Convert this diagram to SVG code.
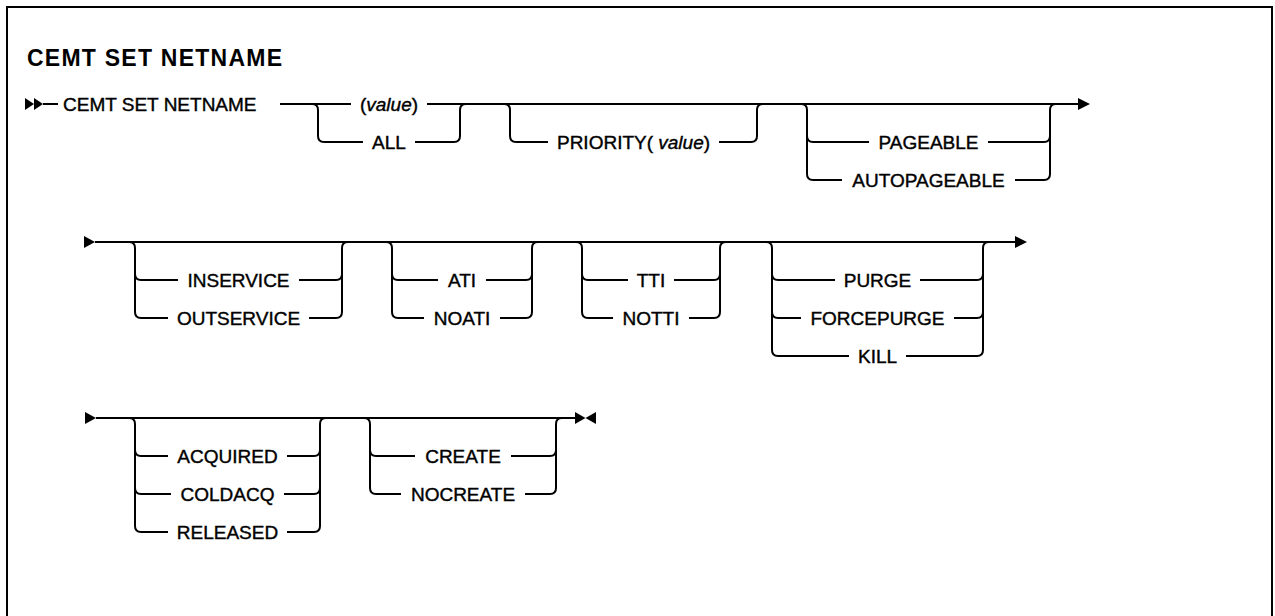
<svg xmlns="http://www.w3.org/2000/svg" width="1275" height="616" viewBox="0 0 1275 616">
<style>
.frame{fill:none;stroke:#000;stroke-width:2}
.ln{fill:none;stroke:#000;stroke-width:2}
.ar{fill:#000}
.t{font-family:"Liberation Sans",Arial,sans-serif;font-size:19px;fill:#000;stroke:#000;stroke-width:0.4;text-anchor:middle}
.ts{text-anchor:start}
.title{font-family:"Liberation Sans",Arial,sans-serif;font-size:23px;font-weight:bold;fill:#000}
.i{font-style:italic}
</style>
<rect class="frame" x="7" y="7" width="1265" height="630"/>
<g id="title"><text class="title" x="27" y="66" textLength="255" lengthAdjust="spacing">CEMT SET NETNAME</text></g>

<g id="connectors">
<!-- row 1 -->
<polygon class="ar" points="25,98 34,104 25,110"/>
<polygon class="ar" points="34,98 43,104 34,110"/>
<path class="ln" d="M43,104 H58"/>
<path class="ln" d="M280,104 H351 M427,104 H1078"/>
<polygon class="ar" points="1078,98 1090,104 1078,110"/>
<path class="ln" d="M312,104 Q318,104 318,110 V136 M460,136 V110 Q460,104 466,104 M318,136 Q318,142 324,142 H363 M415,142 H454 Q460,142 460,136"/>
<path class="ln" d="M504,104 Q510,104 510,110 V136 M757,136 V110 Q757,104 763,104 M510,136 Q510,142 516,142 H548 M719,142 H751 Q757,142 757,136"/>
<path class="ln" d="M801,104 Q807,104 807,110 V174 M1050,174 V110 Q1050,104 1056,104 M807,136 Q807,142 813,142 H869 M988,142 H1044 Q1050,142 1050,136 M807,174 Q807,180 813,180 H842 M1015,180 H1044 Q1050,180 1050,174"/>
<!-- row 2 -->
<polygon class="ar" points="84,236 95,242 84,248"/>
<path class="ln" d="M95,242 H1015"/>
<polygon class="ar" points="1015,236 1027,242 1015,248"/>
<path class="ln" d="M129,242 Q135,242 135,248 V312 M342,312 V248 Q342,242 348,242 M135,274 Q135,280 141,280 H178 M299,280 H336 Q342,280 342,274 M135,312 Q135,318 141,318 H168 M309,318 H336 Q342,318 342,312"/>
<path class="ln" d="M386,242 Q392,242 392,248 V312 M532,312 V248 Q532,242 538,242 M392,274 Q392,280 398,280 H438 M486,280 H526 Q532,280 532,274 M392,312 Q392,318 398,318 H424 M500,318 H526 Q532,318 532,312"/>
<path class="ln" d="M576,242 Q582,242 582,248 V312 M720,312 V248 Q720,242 726,242 M582,274 Q582,280 588,280 H628 M674,280 H714 Q720,280 720,274 M582,312 Q582,318 588,318 H613 M689,318 H714 Q720,318 720,312"/>
<path class="ln" d="M766,242 Q772,242 772,248 V350 M983,350 V248 Q983,242 989,242 M772,274 Q772,280 778,280 H835 M920,280 H977 Q983,280 983,274 M772,312 Q772,318 778,318 H801 M954,318 H977 Q983,318 983,312 M772,350 Q772,356 778,356 H849 M906,356 H977 Q983,356 983,350"/>
<!-- row 3 -->
<polygon class="ar" points="85,412 96,418 85,424"/>
<path class="ln" d="M96,418 H575"/>
<polygon class="ar" points="575,412 585.5,418 575,424"/>
<polygon class="ar" points="596,412 585.5,418 596,424"/>
<path class="ln" d="M129,418 Q135,418 135,424 V526 M320,526 V424 Q320,418 326,418 M135,450 Q135,456 141,456 H168 M287,456 H314 Q320,456 320,450 M135,488 Q135,494 141,494 H171 M284,494 H314 Q320,494 320,488 M135,526 Q135,532 141,532 H168 M287,532 H314 Q320,532 320,526"/>
<path class="ln" d="M364,418 Q370,418 370,424 V488 M556,488 V424 Q556,418 562,418 M370,450 Q370,456 376,456 H415 M511,456 H550 Q556,456 556,450 M370,488 Q370,494 376,494 H401 M525,494 H550 Q556,494 556,488"/>
</g>

<g id="n-cemt"><text class="t ts" x="63" y="111">CEMT SET NETNAME</text></g>
<g id="n-value"><text class="t" x="389" y="111">(<tspan class="i">value</tspan>)</text></g>
<g id="n-all"><text class="t" x="389" y="149">ALL</text></g>
<g id="n-priority"><text class="t" x="633.5" y="149">PRIORITY( <tspan class="i">value</tspan>)</text></g>
<g id="n-pageable"><text class="t" x="928.5" y="149">PAGEABLE</text></g>
<g id="n-autopageable"><text class="t" x="928.5" y="187">AUTOPAGEABLE</text></g>
<g id="n-inservice"><text class="t" x="238.5" y="287">INSERVICE</text></g>
<g id="n-outservice"><text class="t" x="238.5" y="325">OUTSERVICE</text></g>
<g id="n-ati"><text class="t" x="462" y="287">ATI</text></g>
<g id="n-noati"><text class="t" x="462" y="325">NOATI</text></g>
<g id="n-tti"><text class="t" x="651" y="287">TTI</text></g>
<g id="n-notti"><text class="t" x="651" y="325">NOTTI</text></g>
<g id="n-purge"><text class="t" x="877.5" y="287">PURGE</text></g>
<g id="n-forcepurge"><text class="t" x="877.5" y="325">FORCEPURGE</text></g>
<g id="n-kill"><text class="t" x="877.5" y="363">KILL</text></g>
<g id="n-acquired"><text class="t" x="227.5" y="463">ACQUIRED</text></g>
<g id="n-coldacq"><text class="t" x="227.5" y="501">COLDACQ</text></g>
<g id="n-released"><text class="t" x="227.5" y="539">RELEASED</text></g>
<g id="n-create"><text class="t" x="463" y="463">CREATE</text></g>
<g id="n-nocreate"><text class="t" x="463" y="501">NOCREATE</text></g>
</svg>
